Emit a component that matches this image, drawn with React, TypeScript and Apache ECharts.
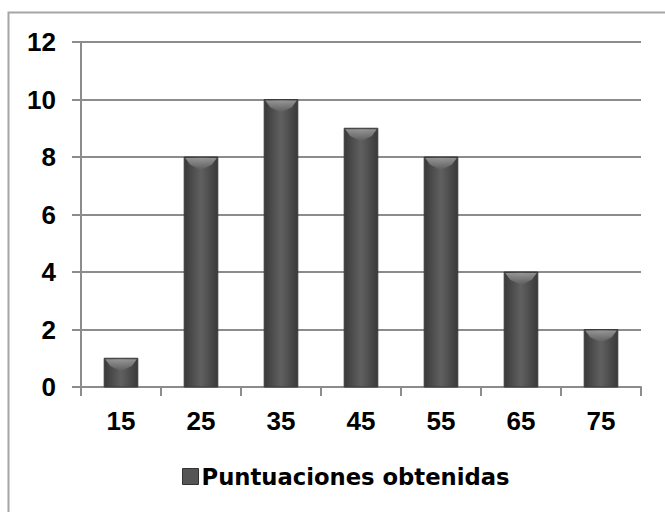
import React, { useEffect, useRef } from "react";
import * as echarts from "echarts";

const categories = ["15", "25", "35", "45", "55", "65", "75"];
const values = [1, 8, 10, 9, 8, 4, 2];
const seriesName = "Puntuaciones obtenidas";
const yTicks = { min: 0, max: 12, interval: 2 };

const FONT = "'Liberation Sans', Arial, sans-serif";
const LEGEND_FONT = "'DejaVu Sans', sans-serif";

export default function App() {
  const ref = useRef<HTMLDivElement>(null);
  useEffect(() => {
    if (!ref.current) return;
    const chart = echarts.init(ref.current, undefined, { renderer: "svg" });
    const bodyFill = new echarts.graphic.LinearGradient(0, 0, 1, 0, [
      { offset: 0, color: "#3a3a3a" },
      { offset: 0.5, color: "#606060" },
      { offset: 1, color: "#3a3a3a" },
    ]);
    const capFill = new echarts.graphic.LinearGradient(0, 0, 0, 1, [
      { offset: 0, color: "#a0a0a0" },
      { offset: 1, color: "#5c5c5c" },
    ]);
    chart.setOption({
      animation: false,
      backgroundColor: "#ffffff",
      graphic: [
        {
          type: "rect",
          shape: { x: 8.5, y: 12.5, width: 700, height: 600 },
          style: { fill: "none", stroke: "#a6a6a6", lineWidth: 2 },
          silent: true,
        },
      ],
      grid: { left: 81, right: 24, top: 42, bottom: 125, containLabel: false },
      legend: {
        left: 182,
        top: 465,
        padding: 0,
        icon: "rect",
        itemWidth: 16,
        itemHeight: 16,
        itemGap: 4,
        textStyle: { fontFamily: LEGEND_FONT, fontWeight: "bold", fontSize: 22.7, color: "#000", padding: [0, 0, 0, -2] },
        data: [{ name: seriesName, itemStyle: { color: "#555555", borderColor: "#333", borderWidth: 1 } }],
      },
      xAxis: {
        type: "category",
        data: categories,
        boundaryGap: true,
        axisLine: { lineStyle: { color: "#8c8c8c", width: 2 } },
        axisTick: { show: true, length: 9, alignWithLabel: false, lineStyle: { color: "#8c8c8c", width: 2 } },
        axisLabel: { margin: 21, fontFamily: FONT, fontWeight: "bold", fontSize: 26, color: "#000" },
      },
      yAxis: {
        type: "value",
        min: yTicks.min,
        max: yTicks.max,
        interval: yTicks.interval,
        axisLine: { show: true, lineStyle: { color: "#8c8c8c", width: 2 } },
        axisTick: { show: true, length: 9, lineStyle: { color: "#8c8c8c", width: 2 } },
        splitLine: { lineStyle: { color: "#8c8c8c", width: 2 } },
        axisLabel: { margin: 25, fontFamily: FONT, fontWeight: "bold", fontSize: 26, color: "#000" },
      },
      series: [
        {
          name: seriesName,
          type: "custom",
          data: values.map((v, i) => [i, v]),
          encode: { x: 0, y: 1 },
          renderItem: (params: any, api: any) => {
            const idx = api.value(0);
            const val = api.value(1);
            const top = api.coord([idx, val]);
            const base = api.coord([idx, 0]);
            const bw = api.size([1, 0])[0] * 0.42;
            const x0 = top[0] - bw / 2;
            const x1 = top[0] + bw / 2;
            const y0 = top[1];
            const y1 = base[1];
            const cap = Math.min(13, (y1 - y0) * 0.6);
            return {
              type: "group",
              children: [
                {
                  type: "rect",
                  shape: { x: x0, y: y0, width: bw, height: y1 - y0 },
                  style: { fill: bodyFill, stroke: "#3a3a3a", lineWidth: 1 },
                },
                {
                  type: "polygon",
                  shape: {
                    points: [
                      [x0 + 1, y0 + 1],
                      [x1 - 1, y0 + 1],
                      [x1 - 6, y0 + cap * 0.6],
                      [top[0], y0 + cap],
                      [x0 + 6, y0 + cap * 0.6],
                    ],
                  },
                  style: { fill: capFill, opacity: 0.85 },
                },
              ],
            };
          },
        },
      ],
    });
    return () => chart.dispose();
  }, []);
  return <div ref={ref} style={{ width: 665, height: 512, position: "absolute", left: 0, top: 0 }} />;
}
